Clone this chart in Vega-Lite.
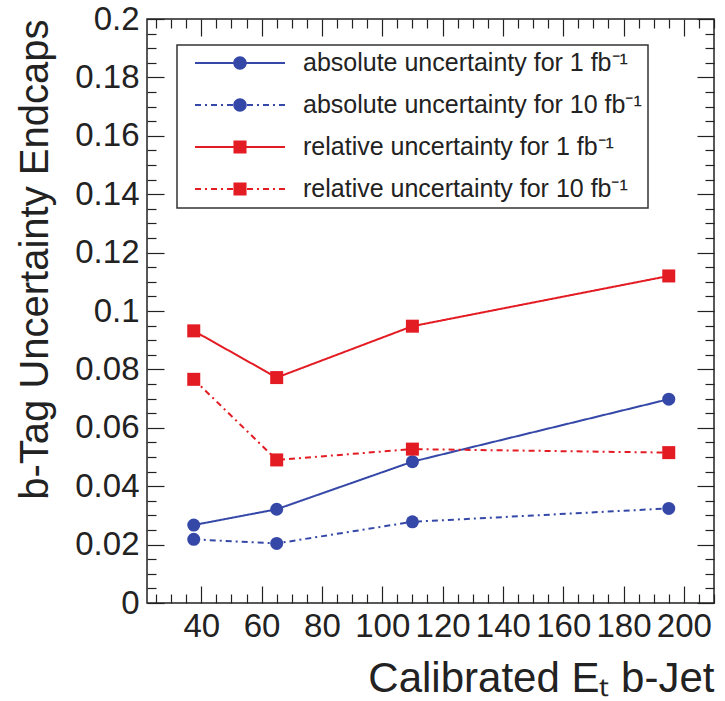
{
  "$schema": "https://vega.github.io/schema/vega-lite/v6.json",
  "width": 567,
  "height": 584,
  "autosize": {"type": "none"},
  "padding": {"left": 147, "top": 19, "right": 11, "bottom": 98},
  "background": "white",
  "config": {
    "view": {"stroke": "#222", "strokeWidth": 1.5},
    "font": "Liberation Sans",
    "axis": {"domain": false, "grid": false, "tickColor": "#222", "tickWidth": 1.2, "labelColor": "#222", "labelFont": "Liberation Sans", "labelFontSize": 33, "titleFont": "Liberation Sans", "titleColor": "#222", "titleFontWeight": "normal", "labelOverlap": false, "labelFlush": false, "labelBound": false}
  },
  "datasets": {
    "pts": [
      {"series": "absolute uncertainty for 1 fb⁻¹", "kind": "absolute", "lumi": "1", "et": 37.5, "unc": 0.0267},
      {"series": "absolute uncertainty for 1 fb⁻¹", "kind": "absolute", "lumi": "1", "et": 65, "unc": 0.0321},
      {"series": "absolute uncertainty for 1 fb⁻¹", "kind": "absolute", "lumi": "1", "et": 110, "unc": 0.0484},
      {"series": "absolute uncertainty for 1 fb⁻¹", "kind": "absolute", "lumi": "1", "et": 195, "unc": 0.0698},
      {"series": "absolute uncertainty for 10 fb⁻¹", "kind": "absolute", "lumi": "10", "et": 37.5, "unc": 0.0218},
      {"series": "absolute uncertainty for 10 fb⁻¹", "kind": "absolute", "lumi": "10", "et": 65, "unc": 0.0204},
      {"series": "absolute uncertainty for 10 fb⁻¹", "kind": "absolute", "lumi": "10", "et": 110, "unc": 0.0278},
      {"series": "absolute uncertainty for 10 fb⁻¹", "kind": "absolute", "lumi": "10", "et": 195, "unc": 0.0324},
      {"series": "relative uncertainty for 1 fb⁻¹", "kind": "relative", "lumi": "1", "et": 37.5, "unc": 0.0932},
      {"series": "relative uncertainty for 1 fb⁻¹", "kind": "relative", "lumi": "1", "et": 65, "unc": 0.0772},
      {"series": "relative uncertainty for 1 fb⁻¹", "kind": "relative", "lumi": "1", "et": 110, "unc": 0.0948},
      {"series": "relative uncertainty for 1 fb⁻¹", "kind": "relative", "lumi": "1", "et": 195, "unc": 0.112},
      {"series": "relative uncertainty for 10 fb⁻¹", "kind": "relative", "lumi": "10", "et": 37.5, "unc": 0.0766},
      {"series": "relative uncertainty for 10 fb⁻¹", "kind": "relative", "lumi": "10", "et": 65, "unc": 0.049},
      {"series": "relative uncertainty for 10 fb⁻¹", "kind": "relative", "lumi": "10", "et": 110, "unc": 0.0527},
      {"series": "relative uncertainty for 10 fb⁻¹", "kind": "relative", "lumi": "10", "et": 195, "unc": 0.0515}
    ]
  },
  "data": {"name": "pts"},
  "resolve": {"axis": {"x": "independent", "y": "independent"}},
  "layer": [
    {
      "mark": {"type": "line", "strokeWidth": 2},
      "encoding": {
        "x": {"field": "et", "type": "quantitative", "scale": {"domain": [22, 210], "nice": false, "zero": false},
          "axis": {"orient": "bottom", "values": [25,30,35,40,45,50,55,60,65,70,75,80,85,90,95,100,105,110,115,120,125,130,135,140,145,150,155,160,165,170,175,180,185,190,195,200,205,210],
            "labelExpr": "datum.value % 20 == 0 ? datum.label : ''",
            "tickSize": {"condition": {"test": "datum.value % 20 == 0", "value": -17}, "value": -9},
            "labelPadding": 24,
            "title": "Calibrated Eₜ b-Jet", "titleFontSize": 42, "titleAnchor": "end", "titlePadding": 7}},
        "y": {"field": "unc", "type": "quantitative", "scale": {"domain": [0, 0.2], "nice": false, "zero": true},
          "axis": {"orient": "left", "values": [0,0.005,0.01,0.015,0.02,0.025,0.03,0.035,0.04,0.045,0.05,0.055,0.06,0.065,0.07,0.075,0.08,0.085,0.09,0.095,0.1,0.105,0.11,0.115,0.12,0.125,0.13,0.135,0.14,0.145,0.15,0.155,0.16,0.165,0.17,0.175,0.18,0.185,0.19,0.195,0.2],
            "labelExpr": "round(datum.value*1000) % 20 == 0 ? format(datum.value, '~g') : ''",
            "tickSize": {"condition": {"test": "round(datum.value*1000) % 20 == 0", "value": -17}, "value": -9},
            "labelPadding": 25,
            "title": "b-Tag Uncertainty Endcaps", "titleFontSize": 40, "titleAnchor": "end", "titlePadding": 19}},
        "color": {"field": "series", "type": "nominal",
          "scale": {"domain": ["absolute uncertainty for 1 fb⁻¹", "absolute uncertainty for 10 fb⁻¹", "relative uncertainty for 1 fb⁻¹", "relative uncertainty for 10 fb⁻¹"], "range": ["#3548a8", "#3548a8", "#e31b23", "#e31b23"]},
          "legend": {"title": null, "orient": "none", "legendX": 30, "legendY": 26, "padding": 6, "rowPadding": 17,
            "labelFont": "Liberation Sans", "labelFontSize": 25, "labelColor": "#222", "labelLimit": 0, "labelOffset": 18,
            "labelExpr": "datum.label + '         '",
            "symbolSize": 8100, "symbolStrokeWidth": 0, "symbolOffset": 12, "strokeColor": "#333",
            "encode": {
              "legend": {"update": {"strokeWidth": {"value": 1.5}}},
              "labels": {"update": {"y": {"value": 12}}},
              "symbols": {"update": {
                "y": {"value": 12},
                "shape": {"signal": "(indexof(datum.value, '10 fb') > 0 ? 'M-1,-0.022H-0.8667V0.022H-1Z M-0.7778,-0.022H-0.7333V0.022H-0.7778Z M-0.6444,-0.022H-0.5111V0.022H-0.6444Z M-0.4222,-0.022H-0.3778V0.022H-0.4222Z M-0.2889,-0.022H-0.1556V0.022H-0.2889Z M0.1556,-0.022H0.2889V0.022H0.1556Z M0.3778,-0.022H0.4222V0.022H0.3778Z M0.5111,-0.022H0.6444V0.022H0.5111Z M0.7333,-0.022H0.7778V0.022H0.7333Z M0.8667,-0.022H1V0.022H0.8667Z ' : 'M-1,-0.022H1V0.022H-1Z ') + (indexof(datum.value, 'absolute') == 0 ? 'M0.15,0A0.15,0.15 0 1,1 -0.15,0A0.15,0.15 0 1,1 0.15,0Z' : 'M-0.145,-0.145H0.145V0.145H-0.145Z')"},
                "size": {"value": 8100},
                "fill": {"signal": "indexof(datum.value, 'absolute') == 0 ? '#3548a8' : '#e31b23'"},
                "strokeWidth": {"value": 0},
                "opacity": {"value": 1}
              }}
            }}},
        "strokeDash": {"field": "lumi", "type": "nominal",
          "scale": {"domain": ["1", "10"], "range": [[1, 0], [6, 4, 2, 4]]},
          "legend": null}
      }
    },
    {
      "mark": {"type": "point", "filled": true, "size": 169, "opacity": 1},
      "encoding": {
        "x": {"field": "et", "type": "quantitative", "scale": {"domain": [22, 210], "nice": false, "zero": false},
          "axis": {"orient": "top", "values": [25,30,35,40,45,50,55,60,65,70,75,80,85,90,95,100,105,110,115,120,125,130,135,140,145,150,155,160,165,170,175,180,185,190,195,200,205,210],
            "labels": false, "title": null,
            "tickSize": {"condition": {"test": "datum.value % 20 == 0", "value": -17}, "value": -9}}},
        "y": {"field": "unc", "type": "quantitative", "scale": {"domain": [0, 0.2], "nice": false, "zero": true},
          "axis": {"orient": "right", "values": [0,0.005,0.01,0.015,0.02,0.025,0.03,0.035,0.04,0.045,0.05,0.055,0.06,0.065,0.07,0.075,0.08,0.085,0.09,0.095,0.1,0.105,0.11,0.115,0.12,0.125,0.13,0.135,0.14,0.145,0.15,0.155,0.16,0.165,0.17,0.175,0.18,0.185,0.19,0.195,0.2],
            "labels": false, "title": null,
            "tickSize": {"condition": {"test": "round(datum.value*1000) % 20 == 0", "value": -17}, "value": -9}}},
        "color": {"field": "series", "type": "nominal",
          "scale": {"domain": ["absolute uncertainty for 1 fb⁻¹", "absolute uncertainty for 10 fb⁻¹", "relative uncertainty for 1 fb⁻¹", "relative uncertainty for 10 fb⁻¹"], "range": ["#3548a8", "#3548a8", "#e31b23", "#e31b23"]}},
        "shape": {"field": "kind", "type": "nominal",
          "scale": {"domain": ["absolute", "relative"], "range": ["circle", "square"]},
          "legend": null}
      }
    }
  ]
}
